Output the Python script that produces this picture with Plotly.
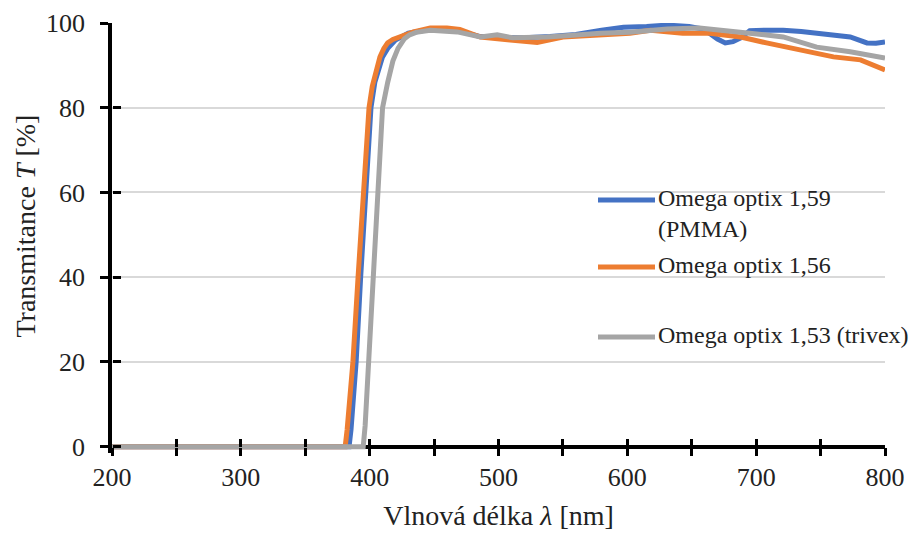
import plotly.graph_objects as go

# ---------------- data ----------------
wl_pmma = [200, 384, 385.5, 387.5, 389.5, 393, 397, 401, 404, 407, 410, 414, 420, 430, 447, 468, 486, 500,
           520, 540, 560, 580, 597, 615, 631, 648, 658, 665, 670, 676, 682, 688, 695, 710,
           721, 735, 747, 760, 773, 786, 793, 800]
t_pmma = [0, 0, 4, 12, 20, 40, 60, 80, 86, 89.5, 92, 94, 96, 97.6, 98.5, 98.2, 96.8, 96.6,
          96.5, 96.8, 97.3, 98.3, 99, 99.2, 99.5, 99.2, 98.6, 97.3, 96.2, 95.3, 95.6, 96.5, 98.2, 98.3,
          98.3, 98, 97.6, 97.3, 96.7, 95.3, 95.2, 95.5]

wl_156 = [200, 381, 382.5, 384.5, 387, 391, 395, 399.5, 402, 405, 408, 411, 414, 418, 423, 434, 447, 460, 470, 486,
          509, 530, 550, 576, 602, 618, 643, 664, 688, 708, 734, 760, 781, 800]
t_156 = [0, 0, 4, 12, 20, 40, 60, 80, 85, 89, 92, 94, 95.3, 96.1, 96.7, 97.9, 98.8, 98.8, 98.5, 96.7,
         96, 95.4, 96.7, 97.2, 97.6, 98.3, 97.6, 97.6, 96.7, 95.3, 93.6, 92, 91.3, 88.9]

wl_trivex = [200, 395, 396.5, 398, 399.5, 403.4, 406.5, 410, 414, 418, 422, 427, 431, 436, 447, 468, 486,
             499, 511, 538, 563, 579, 602, 631, 656, 680, 695, 721, 747, 773, 800]
t_trivex = [0, 0, 5, 13, 20, 40, 60, 80, 86, 91, 94, 96.3, 97.2, 97.8, 98.3, 97.9, 96.7,
            97.2, 96.5, 96.7, 97.2, 97.6, 97.8, 98.6, 98.8, 98.2, 97.6, 96.7, 94.3, 93.2, 91.7]

series_names = ["Omega optix 1,59<br>(PMMA)", "Omega optix 1,56", "Omega optix 1,53 (trivex)"]
series_colors = ["#4472C4", "#ED7D31", "#A5A5A5"]

x_title = "Vlnová délka <i>λ</i> [nm]"
y_title = "Transmitance <i>T</i> [%]"
x_range = [200, 800]
y_range = [-1.5, 100]

# ---------------- layout geometry (pixels) ----------------
W, H = 912, 536
ML, MR, MT, MB = 112, 27, 23, 83
PW, PH = W - ML - MR, H - MT - MB
FONT = "Liberation Serif, Times New Roman, serif"
TXT = "#222222"


def px_x(p):
    return (p - ML) / PW


def px_y(p):
    return (H - MB - p) / PH


fig = go.Figure()
for wl, t, name, col in zip([wl_pmma, wl_156, wl_trivex], [t_pmma, t_156, t_trivex],
                            series_names, series_colors):
    fig.add_trace(go.Scatter(x=wl, y=t, mode="lines", name=name.replace("<br>", " "),
                             line=dict(color=col, width=5, shape="linear"),
                             showlegend=False))
# helper trace so the overlay axes (inner halves of the crossing ticks) are drawn
fig.add_trace(go.Scatter(x=[None], y=[None], xaxis="x2", yaxis="y2", showlegend=False,
                         hoverinfo="skip"))

xpos = (0 - y_range[0]) / (y_range[1] - y_range[0])

tick_common = dict(tickcolor="black", tickwidth=3, ticklen=8)

fig.update_layout(
    width=W, height=H,
    margin=dict(l=ML, r=MR, t=MT, b=MB, autoexpand=False),
    plot_bgcolor="white", paper_bgcolor="white",
    font=dict(family=FONT, size=26, color=TXT),
    showlegend=False,
    xaxis=dict(range=x_range, anchor="free", position=xpos, showline=False, showgrid=False,
               zeroline=False, ticks="outside", dtick=100, tick0=200,
               minor=dict(dtick=50, ticks="outside", tickcolor="black", tickwidth=3, ticklen=8),
               layer="above traces", ticklabelstandoff=-1,
               title=dict(text=x_title, font=dict(size=28, family=FONT), standoff=14),
               **tick_common),
    xaxis2=dict(range=x_range, overlaying="x", anchor="free", position=xpos, showline=False,
                showgrid=False, zeroline=False, ticks="inside", dtick=100, tick0=200,
                minor=dict(dtick=50, ticks="inside", tickcolor="black", tickwidth=3, ticklen=8),
                showticklabels=False, layer="above traces", **tick_common),
    yaxis=dict(range=y_range, tick0=0, dtick=20, showgrid=True, gridcolor="#D9D9D9", gridwidth=2,
               showline=True, linecolor="black", linewidth=3.5, zeroline=True,
               zerolinecolor="black", zerolinewidth=3.5, ticks="outside", layer="above traces",
               ticklabelstandoff=10, **tick_common),
    yaxis2=dict(range=y_range, overlaying="y", anchor="free", position=0, tick0=0, dtick=20,
                showgrid=False, showline=False, zeroline=False, ticks="inside",
                showticklabels=False, **tick_common),
)

# y-axis title placed where the reference has it
fig.add_annotation(text=y_title, xref="paper", yref="paper", x=px_x(25), y=px_y(226.5),
                   xanchor="center", yanchor="middle", textangle=-90, showarrow=False,
                   font=dict(size=28, family=FONT, color=TXT))

# ---------------- legend (drawn manually to match the long line keys) ----------------
leg_y = [200, 267, 337]
for name, col, yy in zip(series_names, series_colors, leg_y):
    fig.add_shape(type="line", xref="paper", yref="paper", x0=px_x(598), x1=px_x(655),
                  y0=px_y(yy), y1=px_y(yy), line=dict(color=col, width=5))
    fig.add_annotation(text=name, xref="paper", yref="paper", x=px_x(656), y=px_y(yy - 17),
                       xanchor="left", yanchor="top", showarrow=False, align="left",
                       font=dict(size=24, family=FONT, color=TXT))

fig.write_html("out.html")
